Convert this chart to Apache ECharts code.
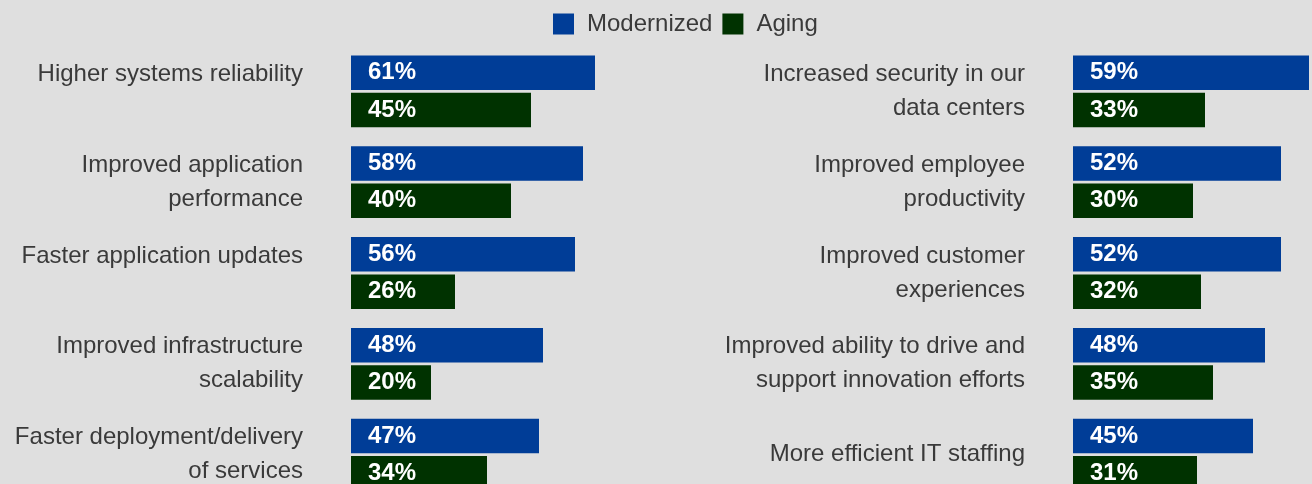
<!DOCTYPE html>
<html>
<head>
<meta charset="utf-8">
<script src="https://cdn.jsdelivr.net/npm/echarts@6/dist/echarts.min.js"></script>
<style>
  html, body { margin: 0; padding: 0; background: #dfdfdf; }
  #chart { width: 1312px; height: 484px; }
</style>
</head>
<body>
<div id="chart"></div>
<script>
// left panel
const leftCategories = [
    'Higher systems reliability\n ',
    'Improved application\nperformance',
    'Faster application updates\n ',
    'Improved infrastructure\nscalability',
    'Faster deployment/delivery\nof services'
];
const leftModernized = [61, 58, 56, 48, 47];
const leftAging = [45, 40, 26, 20, 34];

// right panel
const rightCategories = [
    'Increased security in our\ndata centers',
    'Improved employee\nproductivity',
    'Improved customer\nexperiences',
    'Improved ability to drive and\nsupport innovation efforts',
    'More efficient IT staffing'
];
const rightModernized = [59, 52, 52, 48, 45];
const rightAging = [33, 30, 32, 35, 31];

const seriesNames = ['Modernized', 'Aging'];
const colors = ['#003d97', '#003200'];

const chart = echarts.init(document.getElementById('chart'));

const labelStyle = {
    show: true,
    position: 'insideLeft',
    distance: 17,
    color: '#ffffff',
    fontWeight: 'bold',
    fontSize: 24,
    fontFamily: 'Liberation Sans',
    formatter: '{c}%'
};

const makeBar = (name, data, idx, color) => ({
    name: name,
    type: 'bar',
    xAxisIndex: idx,
    yAxisIndex: idx,
    data: data,
    barWidth: 34.5,
    barGap: '8%',
    itemStyle: { color: color },
    label: labelStyle,
    silent: true
});

const makeCatAxis = (idx, cats) => ({
    type: 'category',
    gridIndex: idx,
    inverse: true,
    data: cats,
    axisLine: { show: false },
    axisTick: { show: false },
    axisLabel: {
        margin: 48,
        fontSize: 24,
        lineHeight: 34,
        color: '#3a3a3a',
        fontFamily: 'Liberation Sans',
        align: 'right'
    }
});

const makeValAxis = (idx) => ({
    type: 'value',
    gridIndex: idx,
    min: 0,
    max: 100,
    show: false,
    splitLine: { show: false }
});

const option = {
    backgroundColor: '#dfdfdf',
    animation: false,
    legend: {
        data: seriesNames,
        left: 553,
        top: 12,
        padding: 0,
        itemWidth: 21,
        itemHeight: 21,
        itemGap: 10,
        icon: 'rect',
        textStyle: {
            fontSize: 24,
            color: '#3a3a3a',
            fontFamily: 'Liberation Sans',
            padding: [0, 0, 0, 8]
        }
    },
    grid: [
        { left: 351, top: 46, width: 400, height: 454, outerBoundsMode: 'none', containLabel: false },
        { left: 1073, top: 46, width: 400, height: 454, outerBoundsMode: 'none', containLabel: false }
    ],
    xAxis: [makeValAxis(0), makeValAxis(1)],
    yAxis: [makeCatAxis(0, leftCategories), makeCatAxis(1, rightCategories)],
    series: [
        makeBar(seriesNames[0], leftModernized, 0, colors[0]),
        makeBar(seriesNames[1], leftAging, 0, colors[1]),
        makeBar(seriesNames[0], rightModernized, 1, colors[0]),
        makeBar(seriesNames[1], rightAging, 1, colors[1])
    ]
};

chart.setOption(option);
</script>
</body>
</html>
